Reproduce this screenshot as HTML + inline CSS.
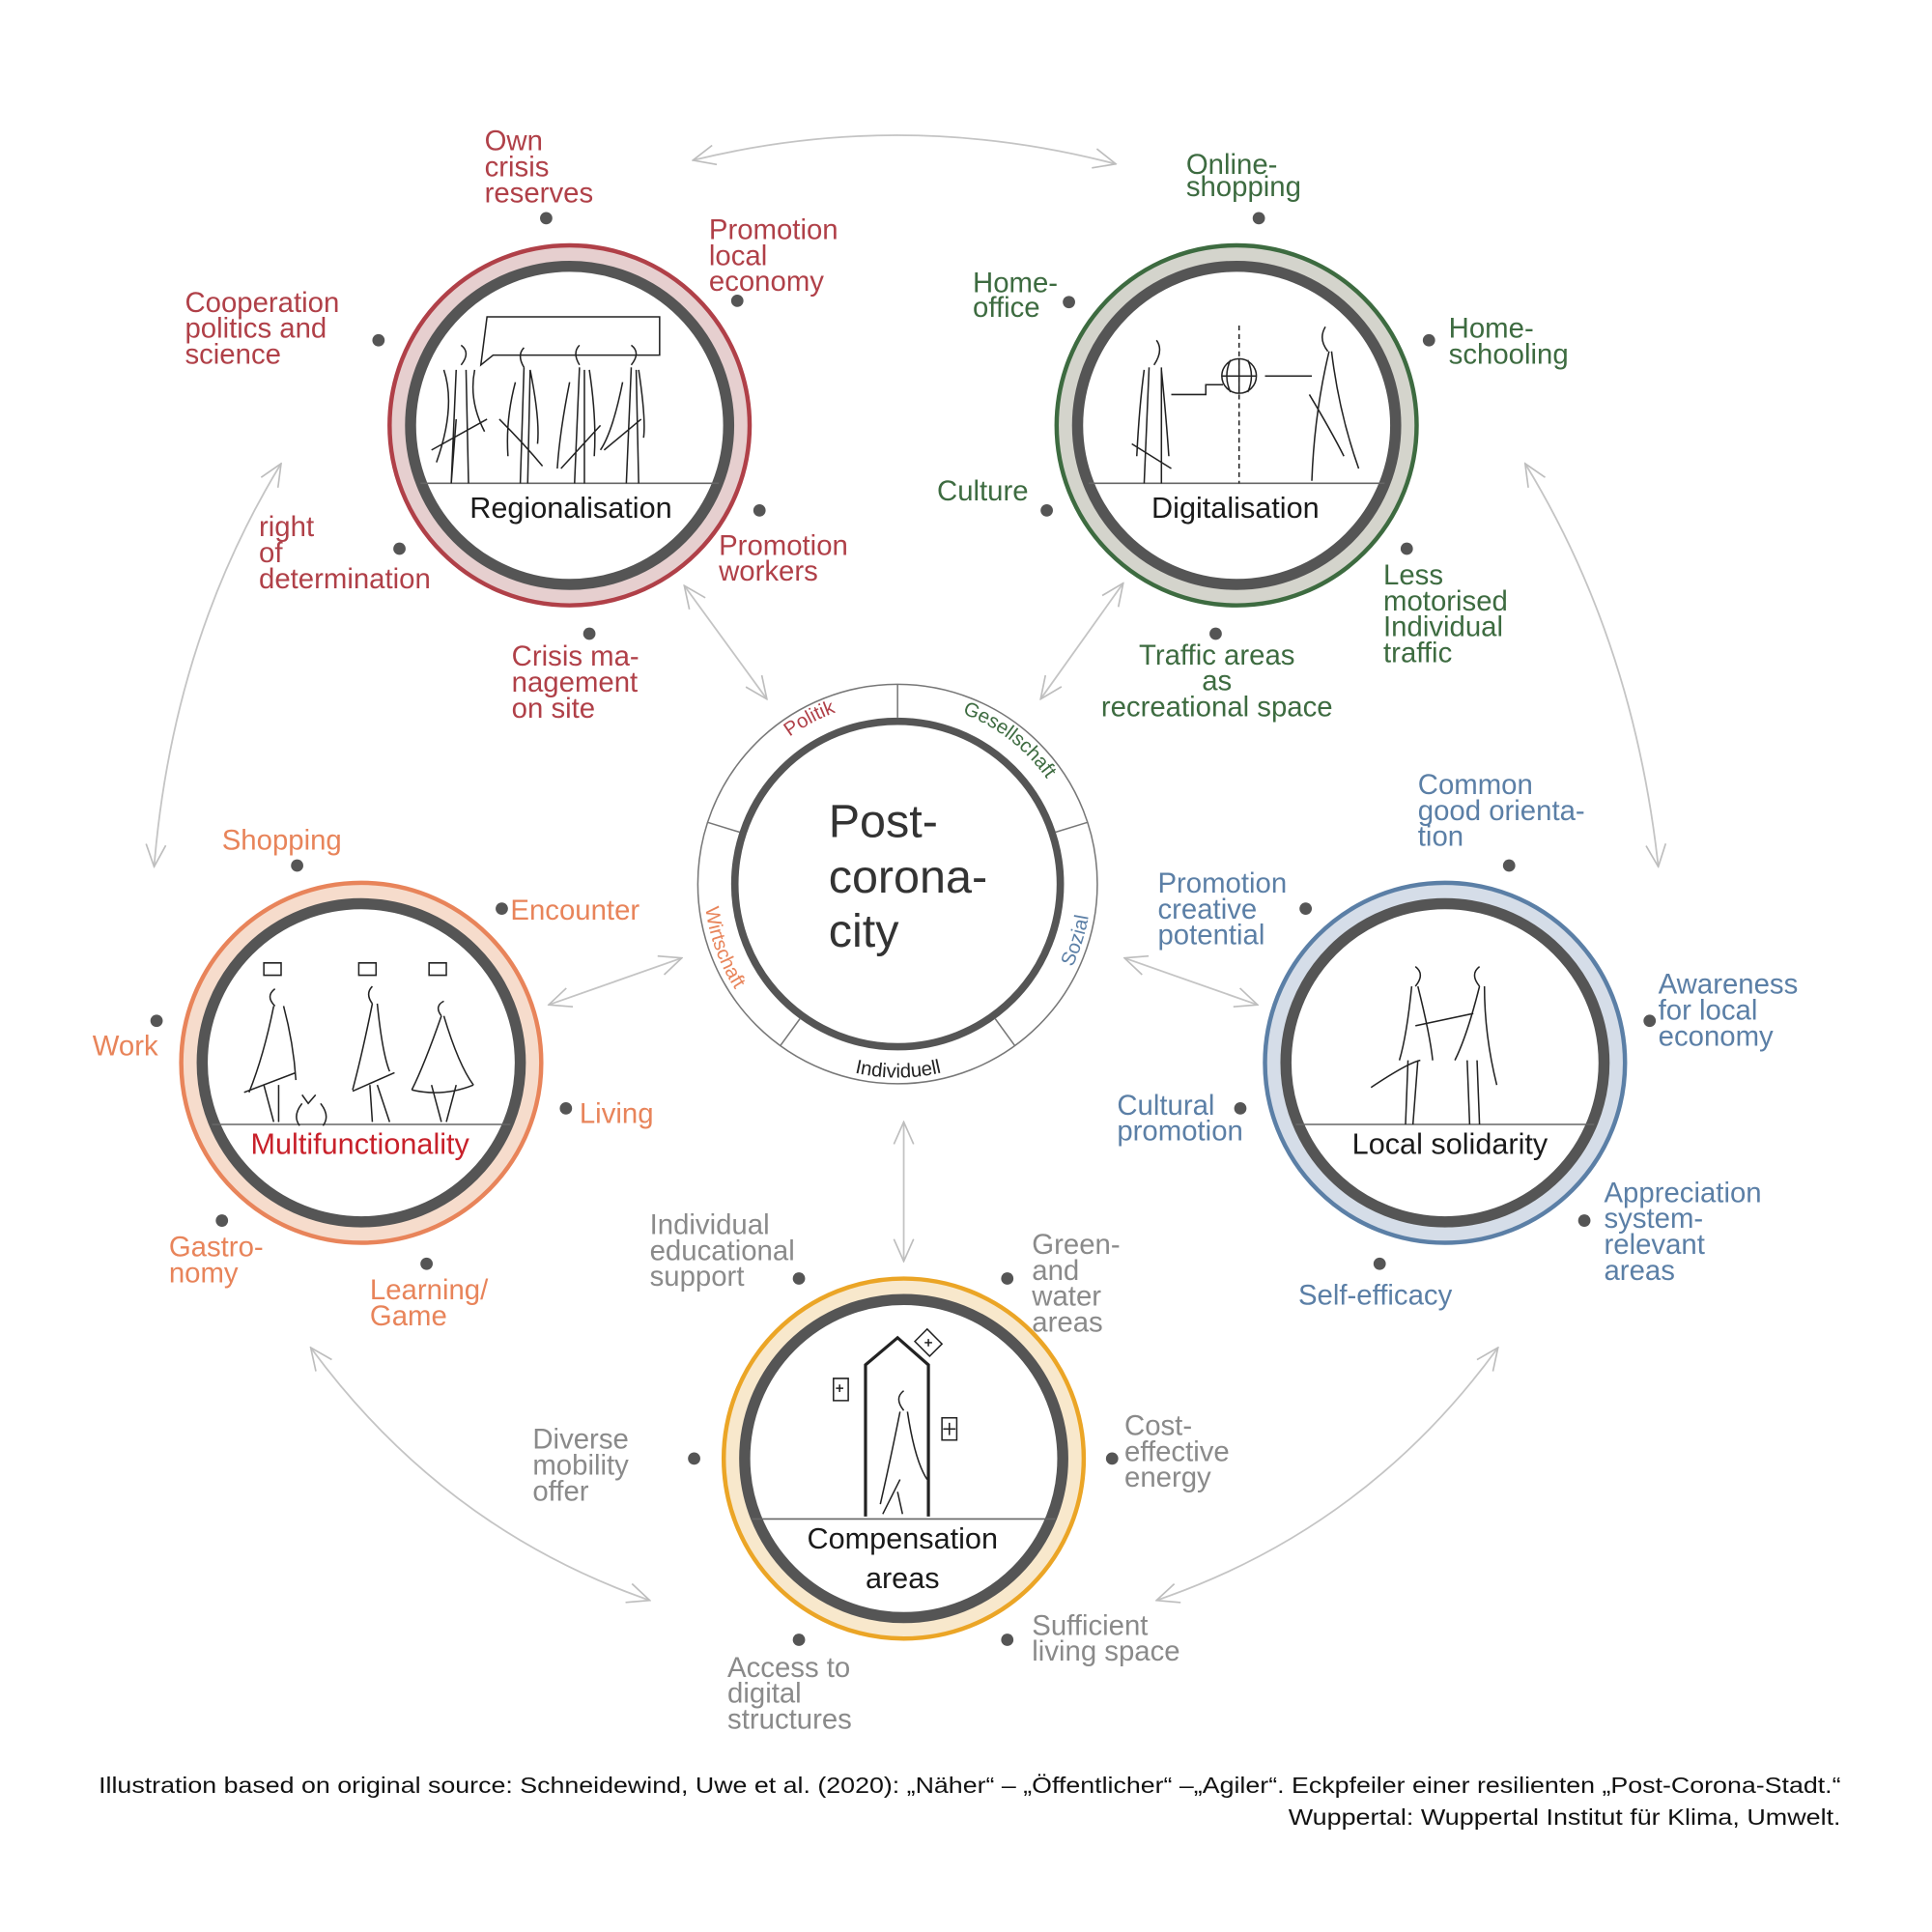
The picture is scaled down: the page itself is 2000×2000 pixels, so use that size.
<!DOCTYPE html>
<html><head><meta charset="utf-8"><style>
html,body{margin:0;padding:0;background:#fff;}
svg{display:block;}
text{font-family:"Liberation Sans",sans-serif;}
</style></head><body>
<svg width="2000" height="2000" viewBox="0 0 1567 1567" xmlns="http://www.w3.org/2000/svg">
<defs>
<marker id="ah" viewBox="0 0 20 20" refX="19" refY="10" markerWidth="20" markerHeight="20" markerUnits="userSpaceOnUse" orient="auto-start-reverse">
<path d="M1,2 L19,10 L1,18" fill="none" stroke="#bdbdbd" stroke-width="1.3"/>
</marker>
<path id="cwC" d="M580,717 A148,148 0 1 1 876,717 A148,148 0 1 1 580,717"/>
<path id="ccwC" d="M571,717 A157,157 0 1 0 885,717 A157,157 0 1 0 571,717"/>
</defs>

<!-- arrows -->
<g fill="none" stroke="#c4c4c4" stroke-width="1.4" marker-start="url(#ah)" marker-end="url(#ah)">
<path d="M562,130 Q733,88 905,133"/>
<path d="M228,376 Q140,520 125,703"/>
<path d="M1237,376 Q1325,520 1345,703"/>
<path d="M252,1093 Q360,1240 527,1298"/>
<path d="M1215,1093 Q1108,1240 938,1298"/>
<path d="M555,475 L622,567"/>
<path d="M911,473 L844,567"/>
<path d="M445,815 L553,777"/>
<path d="M912,777 L1020,815"/>
<path d="M733,910 L733,1023"/>
</g>

<!-- center -->
<circle cx="728" cy="717" r="162" fill="#fff" stroke="#777" stroke-width="1.2"/>
<circle cx="728" cy="717" r="132" fill="#fff" stroke="#555" stroke-width="6"/>
<g stroke="#777" stroke-width="1.2">
<line x1="728" y1="555" x2="728" y2="582"/>
<line x1="882" y1="667" x2="856" y2="675"/>
<line x1="823" y1="848" x2="807" y2="826"/>
<line x1="633" y1="848" x2="649" y2="826"/>
<line x1="574" y1="667" x2="600" y2="675"/>
</g>
<text font-size="16"><textPath href="#cwC" startOffset="160" text-anchor="middle" fill="#b04048">Politik</textPath></text>
<text font-size="16"><textPath href="#cwC" startOffset="330" text-anchor="middle" fill="#3d6b40">Gesellschaft</textPath></text>
<text font-size="16"><textPath href="#ccwC" startOffset="55" text-anchor="middle" fill="#e8845a">Wirtschaft</textPath></text>
<text font-size="16"><textPath href="#ccwC" startOffset="247" text-anchor="middle" fill="#222">Individuell</textPath></text>
<text font-size="16"><textPath href="#ccwC" startOffset="445" text-anchor="middle" fill="#5b7fa6">Sozial</textPath></text>
<g font-size="38" fill="#333"><text x="672" y="679">Post-</text><text x="672" y="724">corona-</text><text x="672" y="768">city</text></g>

<!-- ring circles -->
<g>
<g transform="translate(462,345)"><circle r="146" fill="#e6cfcf" stroke="#b04048" stroke-width="3.5"/><circle r="129" fill="#fff" stroke="#555" stroke-width="9"/></g>
<g transform="translate(1003,345)"><circle r="146" fill="#d4d4cc" stroke="#3d6b40" stroke-width="3.5"/><circle r="129" fill="#fff" stroke="#555" stroke-width="9"/></g>
<g transform="translate(293,862)"><circle r="146" fill="#f6dccc" stroke="#e8845a" stroke-width="3.5"/><circle r="129" fill="#fff" stroke="#555" stroke-width="9"/></g>
<g transform="translate(1172,862)"><circle r="146" fill="#d5dde8" stroke="#5b7fa6" stroke-width="3.5"/><circle r="129" fill="#fff" stroke="#555" stroke-width="9"/></g>
<g transform="translate(733,1183)"><circle r="146" fill="#f8e8cc" stroke="#eba526" stroke-width="3.5"/><circle r="129" fill="#fff" stroke="#555" stroke-width="9"/></g>
</g>

<!-- ground lines and sketches -->
<g stroke="#222" stroke-width="1.2" fill="none">
<line x1="341" y1="392" x2="583" y2="392" stroke="#666"/>
<line x1="883" y1="392" x2="1123" y2="392" stroke="#666"/>
<line x1="172" y1="912" x2="414" y2="912" stroke="#666"/>
<line x1="1051" y1="912" x2="1293" y2="912" stroke="#666"/>
<line x1="610" y1="1232" x2="856" y2="1232" stroke="#666"/>
<path d="M395,257 L535,257 L535,288 L400,288 L390,296 L395,257 Z"/>
<path d="M374,280 q8,6 0,16 M370,300 L366,392 M378,300 L380,392 M366,392 L370,340 M360,300 q10,30 -6,75 M385,300 q-5,25 8,50 M350,365 L395,340"/>
<path d="M425,282 q-6,6 0,16 M425,298 L422,392 M430,300 L428,392 M418,310 q-8,30 -6,60 M430,300 q8,40 6,60 M405,340 q20,20 35,38"/>
<path d="M470,280 q-6,6 0,16 M470,298 L466,392 M474,300 L474,392 M462,310 q-8,40 -10,70 M478,300 q6,40 4,70 M455,380 L487,345"/>
<path d="M512,280 q8,6 0,16 M512,298 L508,392 M516,300 L518,392 M505,310 q-8,40 -18,55 M518,300 q6,40 4,55 M490,365 L520,340"/>
<path d="M938,276 q6,8 -2,20 M932,298 L928,392 M942,298 L942,392 M928,300 q-4,30 -6,70 M942,300 q4,40 6,70 M918,360 L950,380 M950,320 L978,320 L978,312 L992,312"/>
<circle cx="1005" cy="305" r="14"/><path d="M991,305 h28 M1005,291 v28 M998,292 q-6,13 0,26 M1012,292 q6,13 0,26"/>
<path d="M1005,264 V392" stroke-dasharray="4,3"/>
<path d="M1026,305 L1064,305 M1075,265 q-6,10 2,20 M1078,285 q-12,50 -14,105 M1080,285 q6,50 22,95 M1062,320 q18,30 28,50"/>
<path d="M214,781 h14 v10 h-14 z M291,781 h14 v10 h-14 z M348,781 h14 v10 h-14 z"/>
<path d="M223,802 q-8,6 0,14 M222,816 q-8,40 -20,70 M230,816 q8,30 10,60 M198,886 L240,870 M214,880 L222,910 M226,880 L226,910"/>
<path d="M245,895 q-8,10 -2,18 M260,895 q8,10 2,18 M245,888 L250,895 L256,888"/>
<path d="M302,800 q-6,6 0,14 M302,814 q-8,40 -16,70 M306,814 q4,40 10,55 M286,885 L320,870 M300,880 L302,910 M306,880 L316,910"/>
<path d="M360,812 q-8,4 -2,12 M358,824 q-14,40 -24,60 M360,824 q12,40 24,56 M334,884 q25,6 50,-4 M350,880 L358,910 M370,880 L362,910"/>
<path d="M1148,784 q8,6 0,16 M1145,800 q-4,40 -10,60 M1150,800 q10,40 12,60 M1112,882 q30,-20 40,-22 M1142,860 L1140,912 M1150,860 L1146,912"/>
<path d="M1200,784 q-8,6 0,16 M1200,800 q-10,40 -20,60 M1204,800 q0,40 10,80 M1148,832 L1195,822 M1190,860 L1192,912 M1198,860 L1200,912"/>
<path d="M702,1230 V1107 L728,1085 L753,1107 V1230" stroke-width="2.5"/>
<path d="M676,1118 h12 v18 h-12 z M684,1126 h-6 M681,1123 v6"/>
<path d="M764,1150 h12 v18 h-12 z M770,1154 v10 M765,1159 h10"/>
<path d="M742,1088 l10,-10 l12,12 l-10,10 z M750,1089 h6 M753,1086 v6"/>
<path d="M733,1128 q-8,6 0,16 M730,1145 q-8,40 -16,75 M736,1145 q6,40 16,55 M716,1228 L730,1200 M728,1210 L732,1228"/>
</g>

<!-- circle titles -->
<g font-size="24" fill="#1a1a1a" text-anchor="middle">
<text x="463" y="420">Regionalisation</text>
<text x="1002" y="420">Digitalisation</text>
<text x="292" y="936" fill="#c8202a">Multifunctionality</text>
<text x="1176" y="936">Local solidarity</text>
<text x="732" y="1256">Compensation</text>
<text x="732" y="1288">areas</text>
</g>

<!-- dots -->
<g fill="#555">
<circle cx="443" cy="177" r="5"/><circle cx="598" cy="244" r="5"/><circle cx="307" cy="276" r="5"/><circle cx="324" cy="445" r="5"/><circle cx="616" cy="414" r="5"/><circle cx="478" cy="514" r="5"/>
<circle cx="1021" cy="177" r="5"/><circle cx="867" cy="245" r="5"/><circle cx="1159" cy="276" r="5"/><circle cx="849" cy="414" r="5"/><circle cx="1141" cy="445" r="5"/><circle cx="986" cy="514" r="5"/>
<circle cx="241" cy="702" r="5"/><circle cx="407" cy="737" r="5"/><circle cx="127" cy="828" r="5"/><circle cx="459" cy="899" r="5"/><circle cx="180" cy="990" r="5"/><circle cx="346" cy="1025" r="5"/>
<circle cx="1224" cy="702" r="5"/><circle cx="1059" cy="737" r="5"/><circle cx="1338" cy="828" r="5"/><circle cx="1006" cy="899" r="5"/><circle cx="1285" cy="990" r="5"/><circle cx="1119" cy="1025" r="5"/>
<circle cx="648" cy="1037" r="5"/><circle cx="817" cy="1037" r="5"/><circle cx="563" cy="1183" r="5"/><circle cx="902" cy="1183" r="5"/><circle cx="648" cy="1330" r="5"/><circle cx="817" cy="1330" r="5"/>
</g>

<!-- labels -->
<g font-size="23">
<g fill="#b04048">
<text x="393" y="122">Own</text><text x="393" y="143">crisis</text><text x="393" y="164">reserves</text>
<text x="575" y="194">Promotion</text><text x="575" y="215">local</text><text x="575" y="236">economy</text>
<text x="150" y="253">Cooperation</text><text x="150" y="274">politics and</text><text x="150" y="295">science</text>
<text x="210" y="435">right</text><text x="210" y="456">of</text><text x="210" y="477">determination</text>
<text x="583" y="450">Promotion</text><text x="583" y="471">workers</text>
<text x="415" y="540">Crisis ma-</text><text x="415" y="561">nagement</text><text x="415" y="582">on site</text>
</g>
<g fill="#3d6b40">
<text x="962" y="141">Online-</text><text x="962" y="159">shopping</text>
<text x="789" y="237">Home-</text><text x="789" y="257">office</text>
<text x="1175" y="274">Home-</text><text x="1175" y="295">schooling</text>
<text x="760" y="406">Culture</text>
<text x="1122" y="474">Less</text><text x="1122" y="495">motorised</text><text x="1122" y="516">Individual</text><text x="1122" y="537">traffic</text>
<g text-anchor="middle"><text x="987" y="539">Traffic areas</text><text x="987" y="560">as</text><text x="987" y="581">recreational space</text></g>
</g>
<g fill="#e8845a">
<text x="180" y="689">Shopping</text>
<text x="414" y="746">Encounter</text>
<text x="75" y="856">Work</text>
<text x="470" y="911">Living</text>
<text x="137" y="1019">Gastro-</text><text x="137" y="1040">nomy</text>
<text x="300" y="1054">Learning/</text><text x="300" y="1075">Game</text>
</g>
<g fill="#5b7fa6">
<text x="1150" y="644">Common</text><text x="1150" y="665">good orienta-</text><text x="1150" y="686">tion</text>
<text x="939" y="724">Promotion</text><text x="939" y="745">creative</text><text x="939" y="766">potential</text>
<text x="1345" y="806">Awareness</text><text x="1345" y="827">for local</text><text x="1345" y="848">economy</text>
<text x="906" y="904">Cultural</text><text x="906" y="925">promotion</text>
<text x="1301" y="975">Appreciation</text><text x="1301" y="996">system-</text><text x="1301" y="1017">relevant</text><text x="1301" y="1038">areas</text>
<text x="1053" y="1058">Self-efficacy</text>
</g>
<g fill="#8a8a8a">
<text x="527" y="1001">Individual</text><text x="527" y="1022">educational</text><text x="527" y="1043">support</text>
<text x="837" y="1017">Green-</text><text x="837" y="1038">and</text><text x="837" y="1059">water</text><text x="837" y="1080">areas</text>
<text x="432" y="1175">Diverse</text><text x="432" y="1196">mobility</text><text x="432" y="1217">offer</text>
<text x="912" y="1164">Cost-</text><text x="912" y="1185">effective</text><text x="912" y="1206">energy</text>
<text x="590" y="1360">Access to</text><text x="590" y="1381">digital</text><text x="590" y="1402">structures</text>
<text x="837" y="1326">Sufficient</text><text x="837" y="1347">living space</text>
</g>
</g>

<!-- footer -->
<g font-size="18" fill="#111">
<text x="80" y="1454" textLength="1413" lengthAdjust="spacingAndGlyphs">Illustration based on original source: Schneidewind, Uwe et al. (2020): „Näher“ – „Öffentlicher“ –„Agiler“. Eckpfeiler einer resilienten „Post-Corona-Stadt.“</text>
<text x="1045" y="1480" textLength="448" lengthAdjust="spacingAndGlyphs">Wuppertal: Wuppertal Institut für Klima, Umwelt.</text>
</g>
</svg>
</body></html>
